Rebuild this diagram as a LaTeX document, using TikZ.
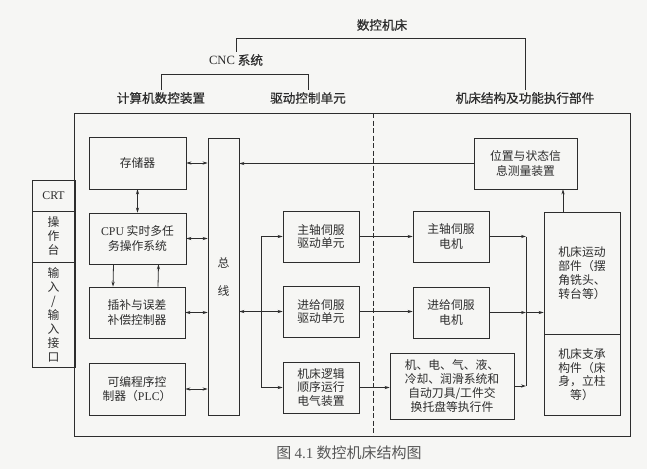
\documentclass[tikz,border=0pt]{standalone}
\usepackage{fontspec}
\setmainfont{Noto Sans CJK SC}
\newfontfamily\lat{Liberation Serif}
\newfontfamily\hd{Noto Sans CJK SC}[FakeBold=0.6]
\usetikzlibrary{positioning}
\usetikzlibrary{calc}
\usetikzlibrary{arrows.meta}
\definecolor{ink}{RGB}{45,45,45}
\definecolor{paper}{RGB}{246,246,244}

\begin{document}
\begin{tikzpicture}[x=1pt, y=-1pt, line width=0.8pt, color=ink,
    every node/.style={font=\fontsize{11.8}{14.5}\selectfont},
    blk/.style={draw, align=center, inner sep=1pt},
    head/.style={font=\fontsize{12.6}{14}\selectfont\hd, inner sep=2pt},
    arr/.style={-{Stealth[length=5pt,width=3.2pt]}},
    dbl/.style={{Stealth[length=5pt,width=3.2pt]}-{Stealth[length=5pt,width=3.2pt]}}]
    \fill[paper] (0,0) rectangle (647,469);
    \useasboundingbox (0,0) rectangle (647,469);

    % hierarchy on top
    \node[head] (tnc) at (382,25) {数控机床};
    \node[head] (tcnc) at (236,60) {{\lat CNC} 系统};
    \node[head] (tcnu) at (161,98) {计算机数控装置};
    \node[head] (tdrv) at (308,98) {驱动控制单元};
    \node[head] (tmach) at (525,98) {机床结构及功能执行部件};
    \draw (tcnc.north) -- ++(0,-13) -| (tmach.north);
    \draw (tcnu.north) -- ++(0,-15) -| (tdrv.north);

    % frame and dividing line
    \node[draw, minimum width=556pt, minimum height=323pt] (frame) at (352,274.5) {};
    \coordinate (dtop) at (373,113);
    \coordinate (dbot) at (373,436);
    \draw[dashed, dash pattern=on 5pt off 2.5pt, line width=0.6pt] (dtop) -- (dbot);

    % operator panel
    \node[blk, minimum width=43pt, minimum height=31pt] (crt) at (53.5,195.5) {\lat CRT};
    \node[blk, minimum width=43pt, minimum height=51pt, font=\fontsize{11.8}{14}\selectfont] (opr) at (53.5,236.5) {操\\作\\台};
    \node[blk, minimum width=43pt, minimum height=105pt, font=\fontsize{11.8}{14}\selectfont] (io) at (53.5,314.5) {输\\入\\/\\输\\入\\接\\口};

    % computer numerical control unit
    \node[blk, minimum width=97pt, minimum height=52pt] (mem) at (137.5,163) {存储器};
    \node[blk, minimum width=97pt, minimum height=51pt] (cpu) at (137.5,238.5) {{\lat CPU} 实时多任\\务操作系统};
    \node[blk, minimum width=96pt, minimum height=51pt] (interp) at (137,312.5) {插补与误差\\补偿控制器};
    \node[blk, minimum width=96pt, minimum height=52pt] (plc) at (137,389) {可编程序控\\制器（{\lat PLC}）};
    \node[blk, minimum width=31pt, minimum height=277pt] (bus) at (223.5,276.5) {总\\[13.5pt]线};

    \foreach \b in {mem, cpu, interp, plc} {
        \draw[dbl] (\b.east) -- (\b.east -| bus.west);
    }
    \draw[dbl] (mem.south) -- (cpu.north);
    \draw[arr] ([xshift=-24pt]cpu.south) -- ([xshift=-24pt]interp.north);
    \draw[arr] ([xshift=21pt]interp.north) -- ([xshift=21pt]cpu.south);

    % drive units and machine side
    \foreach \n/\y/\t in {spdrv/236.5/{主轴伺服\\驱动单元}, feeddrv/311.5/{进给伺服\\驱动单元}, logic/387.5/{机床逻辑\\顺序运行\\电气装置}} {
        \node[blk, minimum width=76pt, minimum height=51pt, font=\fontsize{11.8}{13.8}\selectfont] (\n) at (321,\y) {\t};
    }
    \node[blk, minimum width=76pt, minimum height=51pt] (spmot) at (451,236.5) {主轴伺服\\电机};
    \node[blk, minimum width=76pt, minimum height=51pt] (feedmot) at (451,312.5) {进给伺服\\电机};
    \node[blk, minimum width=124pt, minimum height=66pt, font=\fontsize{11.8}{14}\selectfont] (aux) at (452,386) {机、电、气、液、\\冷却、润滑系统和\\自动刀具/工件交\\换托盘等执行件};
    \node[blk, minimum width=103pt, minimum height=51pt] (meas) at (525.5,163.5) {位置与状态信\\息测量装置};
    \node[blk, minimum width=76pt, minimum height=122pt, font=\fontsize{11.8}{13.8}\selectfont] (motion) at (582,273) {机床运动\\部件（摆\\角铣头、\\转台等）};
    \node[blk, minimum width=76pt, minimum height=81pt, font=\fontsize{11.8}{13.8}\selectfont] (support) at (582,374.5) {机床支承\\构件（床\\身，立柱\\等）};

    \draw[arr] (meas.west) -- (meas.west -| bus.east);
    \draw[dbl] (bus.east |- feeddrv.west) -- (feeddrv.west);
    \draw[arr] ([xshift=-21pt]logic.west) |- (spdrv.west);
    \draw[arr] ([xshift=-21pt]logic.west) -- (logic.west);

    \draw[arr] (spdrv.east) -- (spmot.west);
    \draw[arr] (feeddrv.east) -- (feeddrv.east -| feedmot.west);
    \draw[arr] (logic.east) -- (logic.east -| aux.west);

    \coordinate (colT) at (526,236.5);
    \coordinate (colB) at (526,386);
    \draw (colT) -- (colB);
    \draw[arr] (spmot.east) -- (colT);
    \draw[arr] (feedmot.east) -- (feedmot.east -| colT);
    \draw[arr] (feedmot.east -| colT) -- (motion.west |- feedmot.east);
    \draw[arr] (aux.east) -- (colB);
    \draw[arr] ([xshift=-19pt]motion.north) -- ([xshift=-19pt]motion.north |- meas.south);

    % caption
    \node[font=\fontsize{15}{16}\selectfont, text=ink!80] (cap) at (349,453) {图 {\lat 4.1} 数控机床结构图};
\end{tikzpicture}
\end{document}
